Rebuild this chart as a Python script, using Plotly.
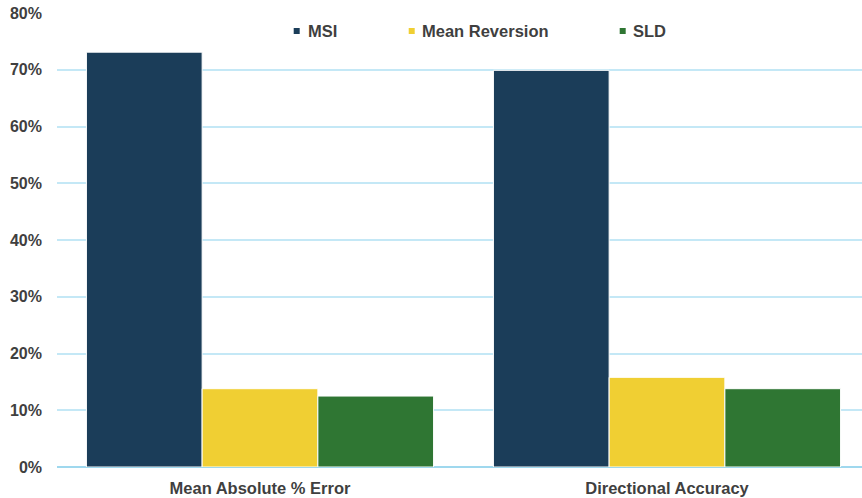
import plotly.graph_objects as go

# Forecast comparison: error and accuracy by method
categories = ["Mean Absolute % Error", "Directional Accuracy"]
series_names = ["MSI", "Mean Reversion", "SLD"]
msi = [0.731, 0.699]
mean_reversion = [0.138, 0.158]
sld = [0.125, 0.138]
y_tick_vals = [0, 0.1, 0.2, 0.3, 0.4, 0.5, 0.6, 0.7, 0.8]
y_tick_text = ["0%", "10%", "20%", "30%", "40%", "50%", "60%", "70%", "80%"]

colors = ["#1B3D59", "#F0CF33", "#2F7633"]
text_color = "#3F3F3F"
grid_color = "#C4E8F6"

W, H = 862, 498
ml, mr, mt, mb = 57, 0, 13, 31
pw, ph = W - ml - mr, H - mt - mb

fig = go.Figure()
for name, vals, col in zip(series_names, [msi, mean_reversion, sld], colors):
    fig.add_trace(go.Bar(
        x=categories, y=vals, name=name,
        marker=dict(color=col, line=dict(color="#FFFFFF", width=1)),
        showlegend=False,
    ))

# custom legend row across the top of the plot
legend_items = [(296.7, 306), (411.7, 420), (622.7, 631)]
legend_y = 31
shapes = []
annotations = []
for (sym_x, txt_x), name, col in zip(legend_items, series_names, colors):
    cx = (sym_x - ml) / pw
    cy = (H - mb - legend_y) / ph
    hx, hy = 3 / pw, 3 / ph
    shapes.append(dict(type="rect", xref="paper", yref="paper",
                       x0=cx - hx, x1=cx + hx, y0=cy - hy, y1=cy + hy,
                       fillcolor=col, line=dict(width=0), layer="above"))
    annotations.append(dict(xref="paper", yref="paper",
                            x=(txt_x - ml) / pw, y=cy, xanchor="left", yanchor="middle",
                            text=f"<b>{name}</b>", showarrow=False,
                            font=dict(size=16.5, color=text_color,
                                      family="Liberation Sans, Arial, sans-serif")))

# range chosen so category centres fall at the group centres
px_per_cat = 407
left_pos = -(260 - ml) / px_per_cat
right_pos = 1 + (W - mr - 667) / px_per_cat

fig.update_layout(
    width=W, height=H,
    margin=dict(l=ml, r=mr, t=mt, b=mb, pad=0),
    barmode="group", bargap=0.147, bargroupgap=0,
    plot_bgcolor="white", paper_bgcolor="white",
    font=dict(family="Liberation Sans, Arial, sans-serif", color=text_color, size=16),
    shapes=shapes, annotations=annotations,
    xaxis=dict(range=[left_pos, right_pos], showgrid=False, showline=False,
               zeroline=False, ticks="",
               tickfont=dict(size=16.5, color=text_color,
                             family="Liberation Sans, Arial, sans-serif", weight="bold"),
               ticklabelstandoff=9),
    yaxis=dict(range=[0, 0.8], tickvals=y_tick_vals, ticktext=y_tick_text,
               showgrid=True, gridcolor=grid_color, gridwidth=1.5,
               zeroline=True, zerolinecolor="#9FD8EE", zerolinewidth=2,
               showline=False, ticks="",
               tickfont=dict(size=16, color=text_color,
                             family="Liberation Sans, Arial, sans-serif", weight="bold"),
               ticklabelstandoff=14),
)

fig.write_html("out.html")
